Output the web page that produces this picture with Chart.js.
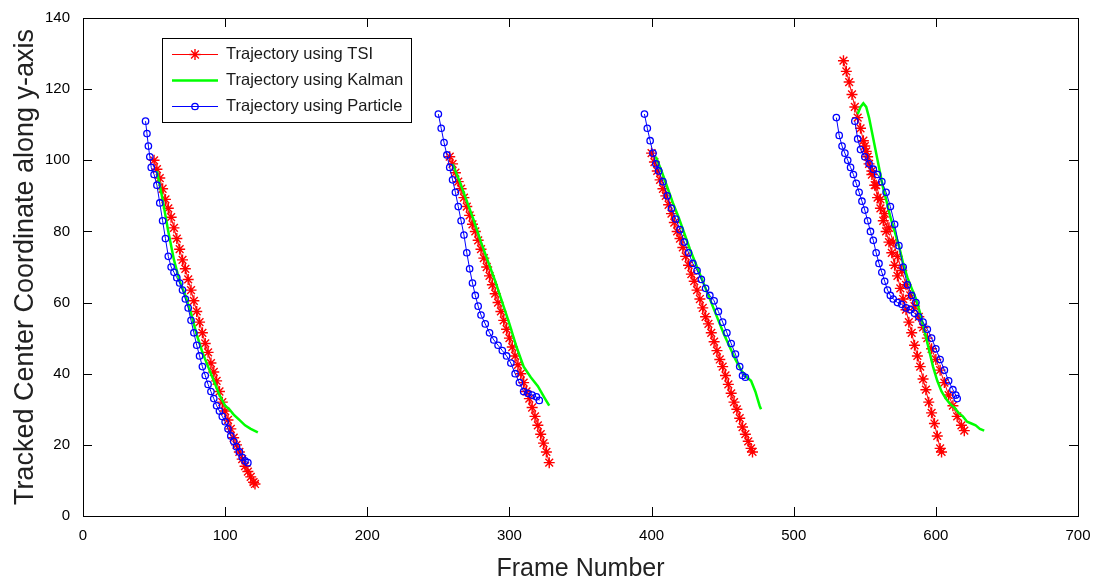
<!DOCTYPE html>
<html>
<head>
<meta charset="utf-8">
<script src="https://cdn.jsdelivr.net/npm/chart.js@4.4.1/dist/chart.umd.min.js"></script>
<style>
  html, body { margin: 0; padding: 0; background: #fff; }
  #chart { display: block; }
</style>
</head>
<body>
<canvas id="chart" width="1100" height="584"></canvas>
<script>
// Trajectory data, null separates the separate tracks

const tsiFrames = [
  50, 52, 54, 56, 58, 60, 62, 64, 66, 68, 70, 72, 74, 76, 78, 80, 82, 84, 86, 88, 90,
  92, 94, 96, 98, 100, 102, 104, 106, 108, 110, 112, 114, 116, 118, 120, 121, null,
  258, 260, 262, 264, 266, 268, 270, 272, 274, 276, 278, 280, 282, 284, 286, 288, 290,
  292, 294, 296, 298, 300, 302, 304, 306, 308, 310, 312, 314, 316, 318, 320, 322, 324, 326, 328, null,
  400, 402, 404, 406, 408, 410, 412, 414, 416, 418, 420, 422, 424, 426, 428, 430, 432,
  434, 436, 438, 440, 442, 444, 446, 448, 450, 452, 454, 456, 458, 460, 462, 464, 466, 468, 470, 471, null,
  535, 537, 539, 541, 543, 545, 547, 549, 551, 553, 555, 557, 559, 561, 563, 565, 567,
  569, 571, 573, 575, 577, 579, 581, 583, 585, 587, 589, 591, 593, 595, 597, 599, 601, 603, 604, null,
  550, 552, 555, 558, 561, 564, 567, 570, 573, 576, 579, 582, 585, 588, 591, 594, 597,
  600, 603, 606, 609, 612, 615, 618, 620
];
const tsiValues = [
  100, 97.5, 95, 92, 89, 86.5, 84, 81, 78, 75, 72, 69.5, 66.5, 63.5, 60.5, 57.5, 54.5, 51.5, 48.5, 46, 43,
  40.5, 38, 35, 32, 29.5, 27, 24.5, 22, 20, 18, 16, 14, 12.5, 11, 9.5, 9, null,
  101, 99, 96.5, 94, 92, 89.5, 87, 84.5, 82, 80, 77.5, 75, 72.5, 70, 67.5, 65, 62.5,
  60, 57.5, 55, 52.5, 50, 47.5, 45, 42.5, 40, 37.5, 35, 33, 30.5, 28, 25.5, 23, 20.5, 18, 15, null,
  102, 99.5, 97, 94.5, 92, 90, 87.5, 85, 82.5, 80, 78, 75.5, 73, 70.5, 68, 66, 63.5,
  61, 58.5, 56, 54, 51.5, 49, 46.5, 44, 42, 39.5, 37, 34.5, 32, 30, 27.5, 25, 23, 21, 19, 18, null,
  128, 125, 122, 118.5, 115, 112, 109, 105.5, 102.5, 99, 96, 93, 89.5, 86.5, 83, 80, 77,
  74, 70.5, 67.5, 64, 61, 58, 54.5, 51.5, 48, 45, 42, 38.5, 35.5, 32, 29, 26, 22.5, 19, 18, null,
  104, 101, 97, 93, 89, 85, 81, 77, 73, 69, 65, 62, 59, 56, 53, 50, 47,
  44, 41, 37.5, 34, 31, 28, 25.5, 24
];

const kalmanFrames = [
  52, 56, 60, 64, 68, 72, 76, 80, 84, 88, 92, 96, 100, 103, 106, 110, 114, 118, 123, null,
  260, 265, 270, 275, 280, 285, 290, 295, 300, 305, 310, 315, 320, 325, 328, null,
  403, 407, 411, 415, 419, 423, 427, 431, 435, 439, 443, 447, 451, 455, 459, 463, 467, 470, 473, 476, 477, null,
  545, 547, 549, 551, 553, 555, 557, 559, 561, 563, 565, 568, 571, 574, 577, 580, 583,
  586, 589, 592, 595, 598, 601, 604, 607, 610, 613, 616, 619, 622, 625, 628, 631, 634
];
const kalmanValues = [
  97, 89, 80, 72, 66, 62, 57, 51, 46, 42, 38, 34, 31, 30, 28.5, 27, 25.5, 24.5, 23.5, null,
  99, 94, 88.5, 83, 77, 71.5, 66, 60, 54, 47.5, 42, 39, 36.5, 33, 31, null,
  101, 97, 92.5, 88, 84, 79.5, 75, 71, 67, 63, 59, 55, 51, 47.5, 44, 41, 39, 38, 35, 31, 30, null,
  113, 115, 116, 115, 112, 108, 104, 100, 96, 92, 89, 84, 80, 76, 71, 67, 64,
  61, 57, 52, 47, 42, 38, 35, 33, 31.5, 30.5, 29, 28, 26.5, 26, 25.5, 24.5, 24
];

const particleFrames = [
  44, 45, 46, 47, 48, 50, 52, 54, 56, 58, 60, 62, 64, 66, 68, 70, 72, 74, 76, 78, 80,
  82, 84, 86, 88, 90, 92, 94, 96, 98, 100, 102, 104, 106, 108, 110, 112, 114, 116, null,
  250, 252, 254, 256, 258, 260, 262, 264, 266, 268, 270, 272, 274, 276, 278, 280, 283,
  286, 289, 292, 295, 298, 301, 304, 307, 310, 313, 316, 319, 321, null,
  395, 397, 399, 401, 403, 405, 408, 411, 414, 417, 420, 423, 426, 429, 432, 435, 438,
  441, 444, 447, 450, 453, 456, 459, 462, 464, 466, null,
  530, 532, 534, 536, 538, 540, 542, 544, 546, 548, 550, 552, 554, 556, 558, 560, 562,
  564, 566, 568, 570, 573, 576, 579, 582, 585, 588, 591, 594, 597, 600, 603, 606, 609, 612, 614, 615, null,
  543, 545, 547, 550, 553, 556, 559, 562, 565, 568, 571, 574, 577, 580, 583, 586
];
const particleValues = [
  111, 107.5, 104, 101, 98, 96, 93, 88, 83, 78, 73, 70, 68.5, 67, 65.5, 63.5, 61, 58.5, 55, 51.5, 48,
  45, 42, 39.5, 37, 35, 33, 31, 29.5, 28, 26.5, 24.5, 22.5, 21, 19.5, 18, 16.5, 15.5, 15, null,
  113, 109, 105, 101.5, 98, 94.5, 91, 87, 83, 79, 74, 69.5, 65.5, 62, 59, 56.5, 54,
  51.5, 49.5, 48, 46.5, 45, 43, 40, 37.5, 35, 34.5, 34, 33.5, 32.5, null,
  113, 109, 105.5, 102, 99, 97, 94, 90, 86.5, 83.5, 80.5, 77, 74, 71, 69, 66.5, 64,
  62, 60.5, 57.5, 54.5, 51.5, 48.5, 45.5, 42, 39.5, 39, null,
  112, 107, 104, 102, 100, 98, 96, 93.5, 91, 88.5, 86, 83, 80, 77.5, 74, 71, 68.5,
  66, 63.5, 62, 61, 60, 59.5, 58.5, 58, 57, 56, 54.5, 52.5, 50, 47, 44, 41, 38, 35.5, 34, 33, null,
  111, 106, 103, 101, 99, 97.5, 96, 94, 91, 87, 82, 76, 70, 65, 62, 60
];

const seriesLabels = ["Trajectory using TSI", "Trajectory using Kalman", "Trajectory using Particle"];
const xTicks = [0, 100, 200, 300, 400, 500, 600, 700];
const yTicks = [0, 20, 40, 60, 80, 100, 120, 140];

const FONT = "'Liberation Sans', Arial, sans-serif";

function toPoints(frames, values) {
    return frames.map((f, i) => ({ x: f, y: values[i] }));
}

// MATLAB style box, inward ticks on all four sides, legend inside the axes
const matlabAxes = {
    id: "matlabAxes",
    afterDraw(chart) {
        const ctx = chart.ctx;
        const a = chart.chartArea;
        const xs = chart.scales.x, ys = chart.scales.y;
        const tick = 9;
        ctx.save();
        ctx.strokeStyle = "#000";
        ctx.lineWidth = 1;
        ctx.beginPath();
        xTicks.forEach(v => {
            const px = Math.round(xs.getPixelForValue(v)) + 0.5;
            ctx.moveTo(px, a.bottom); ctx.lineTo(px, a.bottom - tick);
            ctx.moveTo(px, a.top); ctx.lineTo(px, a.top + tick);
        });
        yTicks.forEach(v => {
            const py = Math.round(ys.getPixelForValue(v)) + 0.5;
            ctx.moveTo(a.left, py); ctx.lineTo(a.left + tick, py);
            ctx.moveTo(a.right, py); ctx.lineTo(a.right - tick, py);
        });
        ctx.stroke();
        ctx.strokeRect(Math.round(a.left) + 0.5, Math.round(a.top) + 0.5,
            Math.round(a.right - a.left), Math.round(a.bottom - a.top));

        // legend
        ctx.font = "16.5px " + FONT;
        const textX = 226;
        const widest = Math.max(...seriesLabels.map(s => ctx.measureText(s).width));
        const boxL = 162.5, boxT = 38.5;
        const boxW = Math.round(textX - boxL + widest + 8);
        const boxH = 84;
        ctx.fillStyle = "#fff";
        ctx.strokeStyle = "#000";
        ctx.lineWidth = 1;
        ctx.fillRect(boxL, boxT, boxW, boxH);
        ctx.strokeRect(boxL, boxT, boxW, boxH);
        const rows = [54.5, 80.5, 106.5];
        chart.data.datasets.forEach((ds, i) => {
            const y = rows[i];
            ctx.strokeStyle = ds.borderColor;
            ctx.lineWidth = ds.borderWidth;
            ctx.beginPath();
            ctx.moveTo(172, y); ctx.lineTo(218, y);
            ctx.stroke();
            if (ds.pointRadius > 0) {
                ctx.fillStyle = ds.pointBackgroundColor;
                ctx.strokeStyle = ds.pointBorderColor;
                ctx.lineWidth = ds.pointBorderWidth;
                Chart.helpers.drawPoint(ctx, {
                    pointStyle: ds.pointStyle, radius: ds.pointRadius, borderWidth: ds.pointBorderWidth
                }, 195, y);
            }
            ctx.fillStyle = "#1a1a1a";
            ctx.textAlign = "left";
            ctx.textBaseline = "middle";
            ctx.fillText(seriesLabels[i], textX, y);
        });
        ctx.restore();
    }
};

new Chart(document.getElementById("chart"), {
    type: "scatter",
    data: {
        datasets: [{
            label: seriesLabels[0],
            data: toPoints(tsiFrames, tsiValues),
            showLine: true,
            spanGaps: false,
            borderColor: "#ff0000",
            borderWidth: 1,
            pointStyle: "star",
            pointRadius: 5.5,
            pointBorderWidth: 1.4,
            pointBorderColor: "#ff0000",
            pointBackgroundColor: "#ff0000",
            order: 3
        }, {
            label: seriesLabels[1],
            data: toPoints(kalmanFrames, kalmanValues),
            showLine: true,
            spanGaps: false,
            borderColor: "#00ff00",
            borderWidth: 2.5,
            pointRadius: 0,
            order: 2
        }, {
            label: seriesLabels[2],
            data: toPoints(particleFrames, particleValues),
            showLine: true,
            spanGaps: false,
            borderColor: "#0000ff",
            borderWidth: 1,
            pointStyle: "circle",
            pointRadius: 3.2,
            pointBorderWidth: 1.3,
            pointBorderColor: "#0000ff",
            pointBackgroundColor: "rgba(0,0,0,0)",
            order: 1
        }]
    },
    options: {
        responsive: false,
        animation: false,
        devicePixelRatio: 1,
        events: [],
        layout: { padding: { top: 18, right: 22, left: 0, bottom: 0 } },
        plugins: { legend: { display: false }, tooltip: { enabled: false } },
        scales: {
            x: {
                type: "linear",
                min: 0, max: 700,
                afterBuildTicks: s => { s.ticks = xTicks.map(v => ({ value: v })); },
                afterFit: s => { s.height = 68; },
                grid: { display: false },
                border: { display: false },
                ticks: { color: "#000", font: { family: FONT, size: 15 }, padding: 3, maxRotation: 0 },
                title: { display: true, text: "Frame Number", color: "#222",
                         font: { family: FONT, size: 25 }, padding: { top: 0, bottom: 0 } }
            },
            y: {
                type: "linear",
                min: 0, max: 140,
                afterBuildTicks: s => { s.ticks = yTicks.map(v => ({ value: v })); },
                afterFit: s => { s.width = 83; },
                grid: { display: false },
                border: { display: false },
                ticks: { color: "#000", font: { family: FONT, size: 15 }, padding: 5 },
                title: { display: true, text: "Tracked Center Coordinate along y-axis", color: "#222",
                         font: { family: FONT, size: 27 }, padding: { top: 9, bottom: 0 } }
            }
        }
    },
    plugins: [matlabAxes]
});
</script>
</body>
</html>
